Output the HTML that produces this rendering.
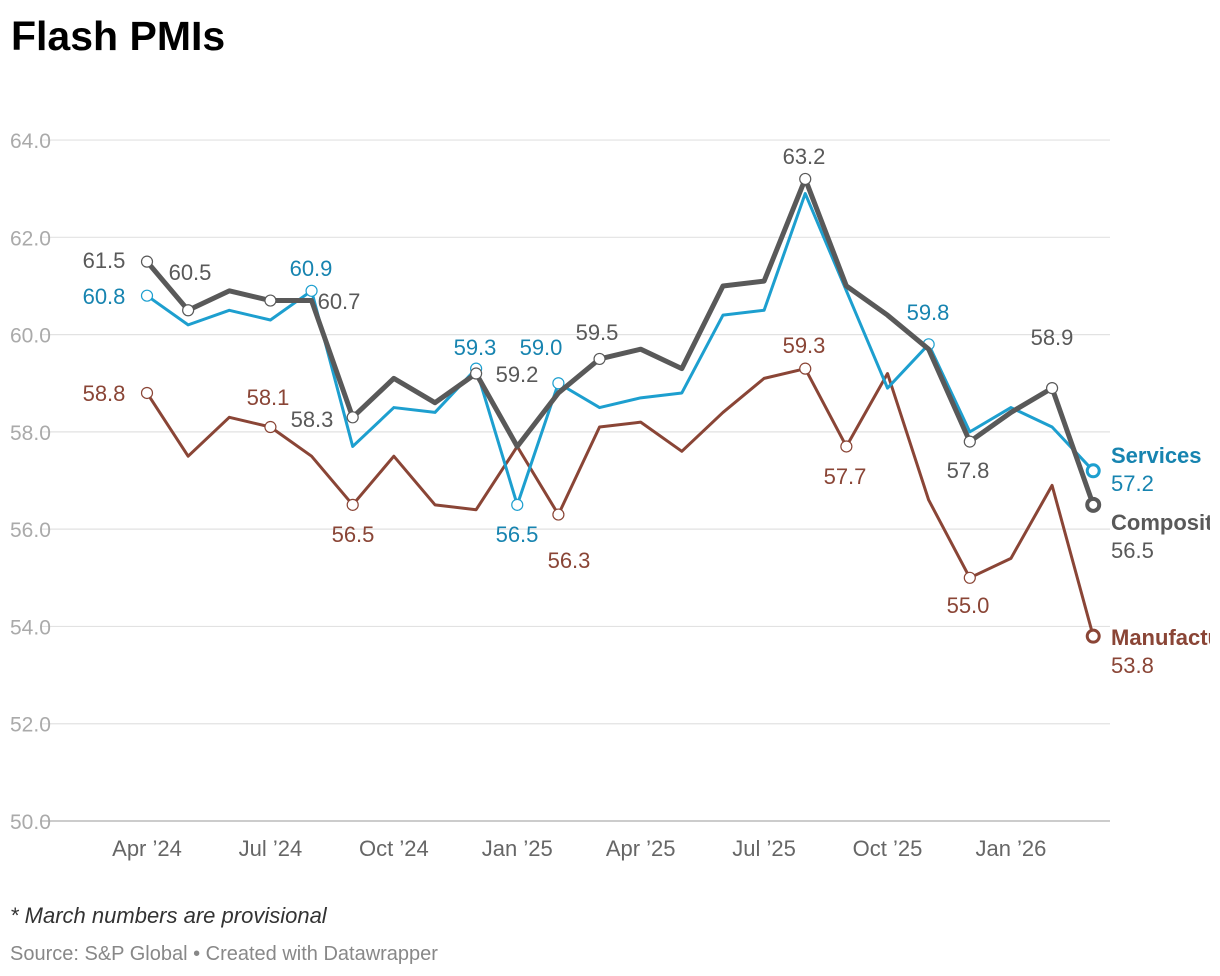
<!DOCTYPE html>
<html><head><meta charset="utf-8"><style>
body{margin:0;background:#fff;width:1220px;height:976px;overflow:hidden;font-family:"Liberation Sans",sans-serif}
svg{position:absolute;left:0;top:0}
</style></head><body>
<svg id="chart" width="1210" height="976" viewBox="0 0 1210 976" style="overflow:hidden">
<text x="11" y="50" font-size="41" font-weight="bold" fill="#000">Flash PMIs</text>
<g id="grid"></g><g id="lines"></g><g id="labels"></g>
<text x="10" y="923" font-size="22" font-style="italic" fill="#333">* March numbers are provisional</text>
<text x="10" y="960" font-size="20" fill="#888">Source: S&amp;P Global • Created with Datawrapper</text>
</svg>
<script>
const yTicks=[50,52,54,56,58,60,62,64];
const xTickLabels=["Apr ’24","Jul ’24","Oct ’24","Jan ’25","Apr ’25","Jul ’25","Oct ’25","Jan ’26"];
const xTickIdx=[0,3,6,9,12,15,18,21];
const composite=[61.5,60.5,60.9,60.7,60.7,58.3,59.1,58.6,59.2,57.7,58.8,59.5,59.7,59.3,61.0,61.1,63.2,61.0,60.4,59.7,57.8,58.4,58.9,56.5];
const services=[60.8,60.2,60.5,60.3,60.9,57.7,58.5,58.4,59.3,56.5,59.0,58.5,58.7,58.8,60.4,60.5,62.9,60.9,58.9,59.8,58.0,58.5,58.1,57.2];
const manufacturing=[58.8,57.5,58.3,58.1,57.5,56.5,57.5,56.5,56.4,57.7,56.3,58.1,58.2,57.6,58.4,59.1,59.3,57.7,59.2,56.6,55.0,55.4,56.9,53.8];
const X=i=>147+i*41.14, Y=v=>821-(v-50)*48.64;
const NS="http://www.w3.org/2000/svg";
function mk(t,a,p,txt){const e=document.createElementNS(NS,t);for(const k in a)e.setAttribute(k,a[k]);if(txt!=null)e.textContent=txt;p.appendChild(e);return e;}
const grid=document.getElementById('grid'),lines=document.getElementById('lines'),labels=document.getElementById('labels');
yTicks.forEach(v=>{
 const l=mk('line',{x1:40,x2:1110,y1:Y(v),y2:Y(v),stroke:v==50?'#bbb':'#e2e2e2','stroke-width':v==50?1.5:1.2},grid);
 
 
 const t=mk('text',{x:10,y:Y(v)+8,'font-size':21,fill:'#aaa'},grid,v.toFixed(1));
 
 
});
xTickIdx.forEach((i,k)=>{
 const t=mk('text',{x:X(i),y:856,'font-size':22,fill:'#666','text-anchor':'middle'},grid,xTickLabels[k]);
 
 
});
const series=[
 {name:'manufacturing',data:manufacturing,color:'#8a4536',w:3,label:'Manufacturing',ly:645,
  pts:[[0,104,401],[3,268,405],[5,353,542],[10,569,568],[16,804,353],[17,845,484],[20,968,613]]},
 {name:'services',data:services,color:'#1d9fcf',w:3,label:'Services',ly:463,
  pts:[[0,104,304],[4,311,276],[8,475,355],[9,517,542],[10,541,355],[19,928,320]]},
 {name:'composite',data:composite,color:'#595959',w:5,label:'Composite',ly:530,
  pts:[[0,104,268],[1,190,280],[3,339,309],[5,312,427],[8,517,382],[11,597,340],[16,804,164],[20,968,478],[22,1052,345]]}
];
series.forEach(s=>{
 const d=s.data.map((v,i)=>(i?'L':'M')+X(i)+','+Y(v)).join(' ');
 const p=mk('path',{d:d,fill:'none',stroke:s.color,'stroke-width':s.w,'stroke-linejoin':'round'},lines);
 
 
 s.pts.forEach(([i,lx,ly])=>{
  const c=mk('circle',{cx:X(i),cy:Y(s.data[i]),r:5.5,fill:'#fff',stroke:s.color,'stroke-width':1.2},lines);
  
  
  const t=mk('text',{x:lx,y:ly,'font-size':22,fill:s.color=='#1d9fcf'?'#1784b0':s.color,'text-anchor':'middle'},labels,s.data[i].toFixed(1));
  
  
 });
 const n=s.data.length-1;
 const e=mk('circle',{cx:X(n),cy:Y(s.data[n]),r:6,fill:'#fff',stroke:s.color,'stroke-width':s.name=='composite'?4:3},lines);
 
 
 const lc=s.color=='#1d9fcf'?'#1784b0':s.color;
 const t1=mk('text',{x:1111,y:s.ly,'font-size':22,'font-weight':'bold',fill:lc},labels,s.label);
 
 
 const t2=mk('text',{x:1111,y:s.ly+28,'font-size':22,fill:lc},labels,s.data[n].toFixed(1));
 
 
});
</script>
</body></html>
